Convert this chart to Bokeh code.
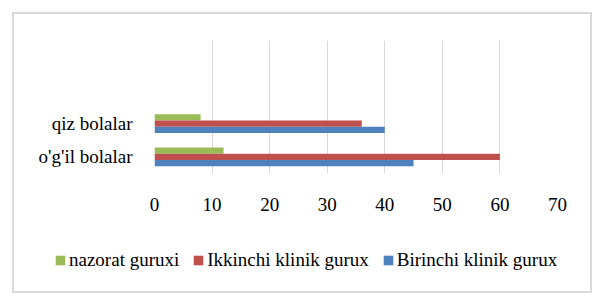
from bokeh.plotting import figure
from bokeh.layouts import column
from bokeh.models import Range1d, FixedTicker, Legend, LegendItem
from bokeh.embed import file_html
from bokeh.resources import INLINE

categories = ["o'g'il bolalar", "qiz bolalar"]
series_names = ["nazorat guruxi", "Ikkinchi klinik gurux", "Birinchi klinik gurux"]
nazorat = [12, 8]
ikkinchi = [60, 36]
birinchi = [45, 40]
x_ticks = [0, 10, 20, 30, 40, 50, 60, 70]

colors = ["#9bbb59", "#c0504d", "#4f81bd"]
offsets = [0.19, 0.0, -0.19]
series = [nazorat, ikkinchi, birinchi]

FONT = "'Liberation Serif', 'Times New Roman', serif"
AXIS_SIZE = "19px"
LEG_SIZE = "19px"

p = figure(width=604, height=232, output_backend="svg", toolbar_location=None,
           x_range=Range1d(0, 70), y_range=Range1d(0, 4),
           min_border_left=154, min_border_right=47, min_border_top=40, min_border_bottom=59)
p.outline_line_color = None
p.background_fill_color = None
p.border_fill_color = None

for vals, col, off in zip(series, colors, offsets):
    ys = [i + 0.5 + off for i in range(len(categories))]
    p.hbar(y=ys, right=vals, left=0, height=0.19, color=col, line_color=None)

p.xaxis.ticker = FixedTicker(ticks=x_ticks)
p.xaxis.axis_line_color = None
p.xaxis.major_tick_line_color = None
p.xaxis.minor_tick_line_color = None
p.xaxis.major_label_standoff = 18
p.xaxis.major_label_text_font = FONT
p.xaxis.major_label_text_font_size = AXIS_SIZE
p.xaxis.major_label_text_color = "black"

p.yaxis.ticker = FixedTicker(ticks=[i + 0.5 for i in range(len(categories))])
p.yaxis.major_label_overrides = {i + 0.5: c for i, c in enumerate(categories)}
p.yaxis.axis_line_color = None
p.yaxis.major_tick_line_color = None
p.yaxis.minor_tick_line_color = None
p.yaxis.major_label_standoff = 16
p.yaxis.major_label_text_font = FONT
p.yaxis.major_label_text_font_size = AXIS_SIZE
p.yaxis.major_label_text_color = "black"

p.xgrid.grid_line_color = "#d9d9d9"
p.xgrid.grid_line_width = 1
p.ygrid.grid_line_color = None

# legend strip (its swatches come from hidden copies of the same series)
p2 = figure(width=604, height=73, output_backend="svg", toolbar_location=None,
            x_axis_type=None, y_axis_type=None,
            x_range=Range1d(0, 70), y_range=Range1d(0, 4),
            min_border_left=0, min_border_right=0, min_border_top=0, min_border_bottom=0)
p2.frame_align = False
p2.outline_line_color = None
p2.background_fill_color = None
p2.border_fill_color = None
p2.grid.visible = False
leg_renderers = []
for vals, col, off in zip(series, colors, offsets):
    ys = [i + 0.5 + off for i in range(len(categories))]
    r = p2.hbar(y=ys, right=vals, left=0, height=0.19, color=col, line_color=None, visible=False)
    leg_renderers.append(r)

legend = Legend(items=[LegendItem(label=n, renderers=[r]) for n, r in zip(series_names, leg_renderers)],
                orientation="horizontal", location=(54, 34),
                glyph_width=12, glyph_height=12, label_standoff=3, spacing=13,
                padding=0, margin=0, border_line_color=None, background_fill_alpha=0,
                inactive_fill_alpha=0,
                label_text_font=FONT, label_text_font_size=LEG_SIZE, label_text_color="black")
p2.add_layout(legend, "center")

layout = column(p, p2, spacing=0,
                styles={"outline": "2px solid #d9d9d9", "outline-offset": "-14px"})

open("out.html", "w").write(file_html(layout, INLINE))
